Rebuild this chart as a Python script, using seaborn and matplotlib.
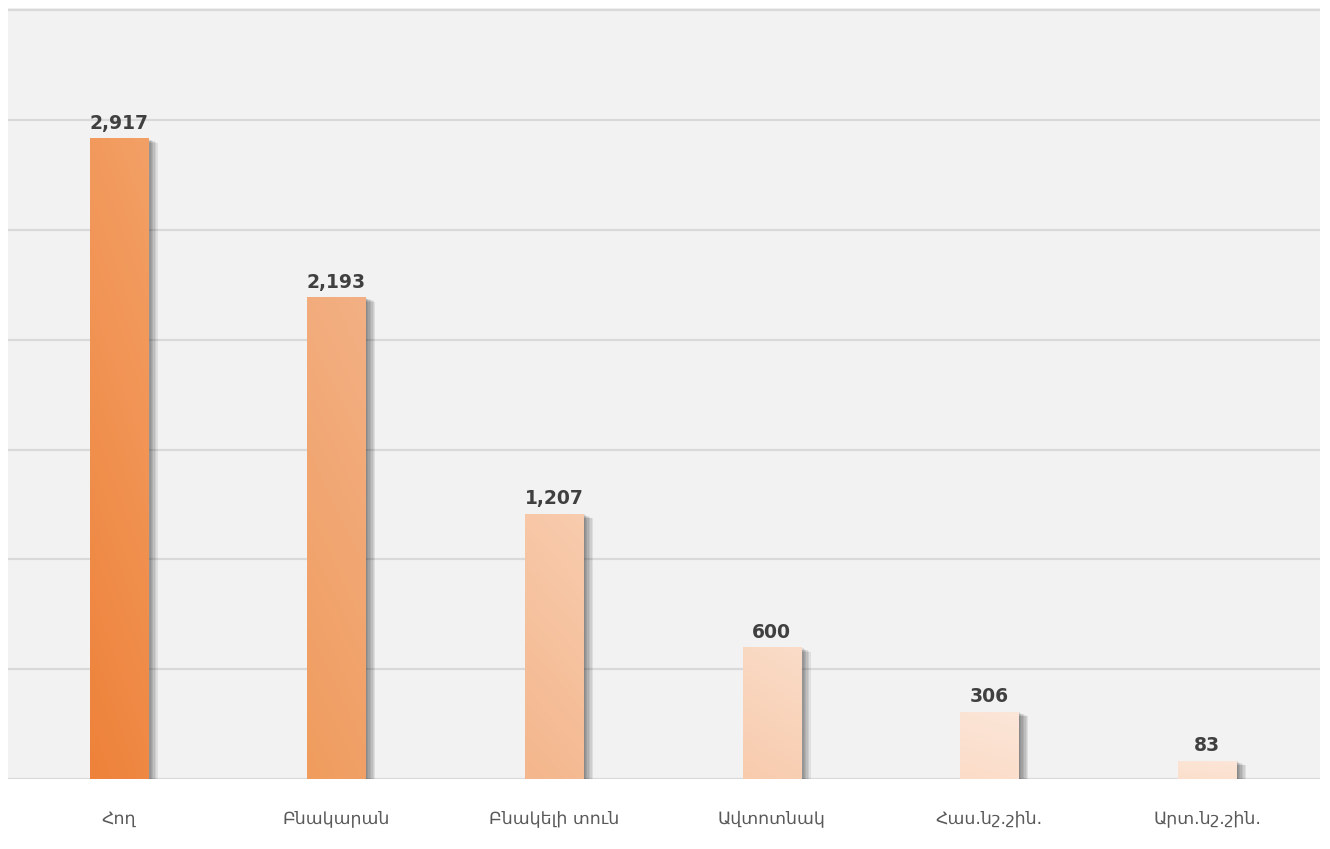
import numpy as np
import pandas as pd
import matplotlib
matplotlib.use("Agg")
import matplotlib.pyplot as plt
import matplotlib.patheffects as pe
from matplotlib.colors import LinearSegmentedColormap
import seaborn as sns

categories = ["Հող", "Բնակարան", "Բնակելի տուն", "Ավտոտնակ", "Հաս.նշ.շին.", "Արտ.նշ.շին."]
values = [2917, 2193, 1207, 600, 306, 83]
y_ticks = [0, 500, 1000, 1500, 2000, 2500, 3000, 3500]

bottom_colors = ["#EE823A", "#F09C5E", "#F4B68C", "#F8CBAD", "#FBDCC8", "#FBDFCC"]
top_colors = ["#F3A066", "#F3B084", "#F8CCAE", "#FADCC8", "#FCE6D8", "#FCE6D8"]

sns.set_theme(style="white")
plt.rcParams["font.family"] = ["DejaVu Sans"]

df = pd.DataFrame({"cat": categories, "val": values})

fig = plt.figure(figsize=(13.30, 8.49), dpi=100)
fig.patch.set_facecolor("white")
ax = fig.add_axes([8 / 1330, (849 - 779) / 849, 1312 / 1330, 771 / 849])
ax.set_facecolor("#F2F2F2")

sns.barplot(data=df, x="cat", y="val", ax=ax, width=0.267, color="#F0924A",
            saturation=1, zorder=3, linewidth=0, edgecolor="none")

XLIM = (-0.5 - 2 / 217.6, len(categories) - 0.5 + 4 / 217.6)
YLIM = (0, 3510)
ax.set_ylim(*YLIM)
ax.set_xlim(*XLIM)
ax.set_yticks(y_ticks)
ax.set_yticklabels([])
ax.tick_params(axis="y", length=0)
ax.tick_params(axis="x", length=0, pad=22, labelsize=12.5, labelcolor="#595959")
ax.grid(axis="y", color="#D9D9D9", linewidth=1.6, zorder=0)
ax.set_axisbelow(True)
for s in ax.spines.values():
    s.set_visible(False)
ax.set_xlabel("")
ax.set_ylabel("")

shadow_effects = [
    pe.SimplePatchShadow(offset=(o, -o * 0.45), shadow_rgbFace="#000000", alpha=0.075)
    for o in (1, 2, 3, 4, 5, 6, 7)
]

for i, patch in enumerate(ax.patches):
    patch.set_path_effects(shadow_effects + [pe.Normal()])
    x0, y0 = patch.get_x(), patch.get_y()
    w, h = patch.get_width(), patch.get_height()
    cmap = LinearSegmentedColormap.from_list(f"g{i}", [bottom_colors[i], top_colors[i]])
    gy, gx = np.mgrid[0:1:100j, 0:1:20j]
    grad = 0.8 * gy + 0.2 * gx
    im = ax.imshow(grad, cmap=cmap, origin="lower", extent=[x0, x0 + w, y0, y0 + h],
                   aspect="auto", zorder=4, interpolation="bilinear")
    im.set_clip_path(patch)
    ax.text(x0 + w / 2, y0 + h + 25, f"{values[i]:,}", ha="center", va="bottom",
            fontsize=13.5, fontweight="bold", color="#404040", zorder=5)

ax.set_xlim(*XLIM)
ax.set_ylim(*YLIM)

fig.savefig("out.png", dpi=100, facecolor="white")
